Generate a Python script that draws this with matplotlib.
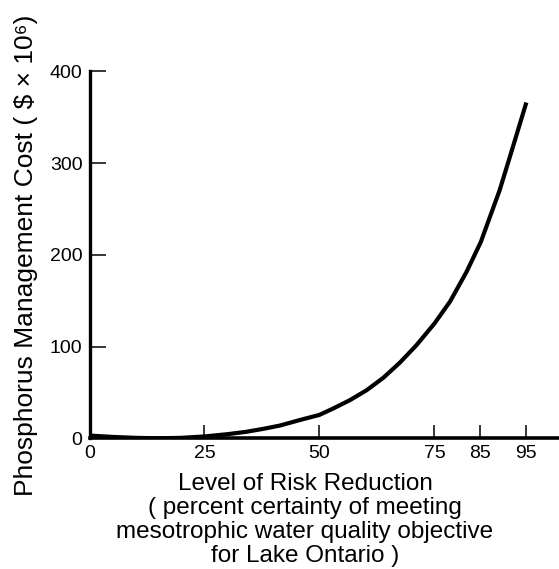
import matplotlib
matplotlib.use("Agg")
import matplotlib.pyplot as plt

# values
risk_reduction = [0, 5, 10, 15, 20, 25, 30, 34, 38, 41.5, 45.8, 50, 53, 56.6,
                  60.3, 63.9, 67.5, 71.1, 75, 78.4, 82, 85.1, 89.2, 92.1, 95]
cost = [3, 1.5, 0.5, 0, 0.5, 2, 4.5, 7, 10.5, 14, 20, 25.5, 32.5, 41.5,
        52.5, 66, 82.5, 101.5, 125, 149, 181.5, 214, 270.5, 318, 366]
x_ticks = [0, 25, 50, 75, 85, 95]
y_ticks = [0, 100, 200, 300, 400]

plt.rcParams['font.family'] = ['Liberation Sans', 'DejaVu Sans']

W, H = 559, 569
fig = plt.figure(figsize=(W / 100, H / 100), dpi=100)
ax = fig.add_axes([89.5 / W, 1 - 438.3 / H, (W - 89.5) / W, 367 / H])

ax.plot(risk_reduction, cost, color="black", linewidth=3,
        solid_capstyle="butt", solid_joinstyle="round")

ax.set_xlim(0, 102.1)
ax.set_ylim(0, 400)
ax.set_xticks(x_ticks)
ax.set_yticks(y_ticks)
ax.set_xticklabels([str(t) for t in x_ticks], fontsize=14)
ax.set_yticklabels([str(t) for t in y_ticks], fontsize=14)
ax.tick_params(axis="x", direction="in", length=9.5, width=1.1, pad=5)
ax.tick_params(axis="y", direction="in", length=11.5, width=1.1, pad=5)

for side in ["top", "right"]:
    ax.spines[side].set_visible(False)
ax.spines["left"].set_linewidth(2.4)
ax.spines["bottom"].set_linewidth(2.6)

fig.text(26 / W, 1 - 255 / H, "Phosphorus Management Cost ( $ \u00d7 10\u2076)",
         rotation=90, ha="center", va="center", fontsize=19)

xlabel_lines = ["Level of Risk Reduction",
                "( percent certainty of meeting",
                "mesotrophic water quality objective",
                "for Lake Ontario )"]
baselines = [490, 514, 538, 562]
for line, yb in zip(xlabel_lines, baselines):
    fig.text(305 / W, 1 - yb / H, line, ha="center", va="baseline", fontsize=17.5)

fig.savefig("out.png", dpi=100)
